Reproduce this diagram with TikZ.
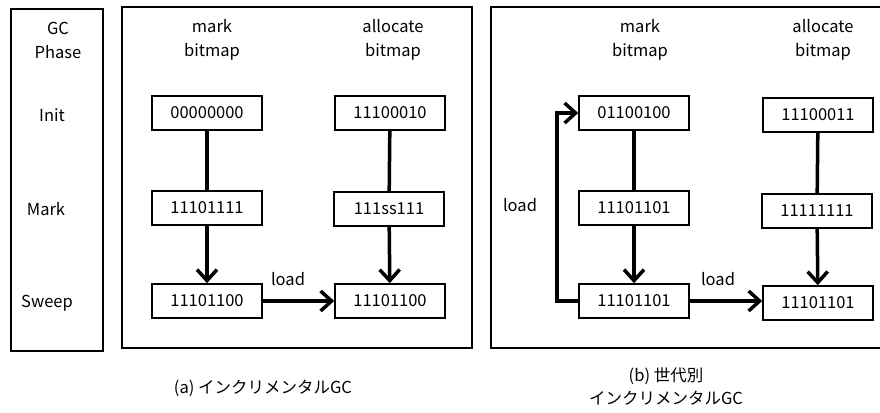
\documentclass[tikz,border=0pt]{standalone}
\usepackage{fontspec}
\setmainfont{Noto Sans CJK JP}
\usetikzlibrary{arrows.meta}
\begin{document}
\begin{tikzpicture}[x=1pt,y=-1pt,
  bitbox/.style={draw, line width=1.6pt, minimum width=110pt, minimum height=34pt,
                 inner sep=0pt, font=\fontsize{16.5}{19}\selectfont},
  lbl/.style={font=\fontsize{16.5}{24}\selectfont, align=center, inner sep=0pt},
  captext/.style={font=\fontsize{16.5}{23}\selectfont, align=center, inner sep=0pt},
  frame/.style={line width=1.6pt},
  link/.style={line width=3.5pt},
  flow/.style={line width=3.5pt, -{Straight Barb[length=11pt,width=20pt,line width=3.5pt]}}
]
\useasboundingbox (0,0) rectangle (880,412);

% frames
\draw[frame] (11,9) rectangle (103,351);
\draw[frame] (122,7) rectangle (472,348);
\draw[frame] (880,7) -- (491,7) -- (491,348) -- (880,348);

% phase column
\node[lbl] (gcphase) at (58,40) {GC\\Phase};
\node[lbl] (pinit)  at (52,115) {Init};
\node[lbl] (pmark)  at (46,209) {Mark};
\node[lbl] (psweep) at (47,303) {Sweep};

% (a) incremental GC
\node[lbl] (ahm) at (212,40) {mark\\bitmap};
\node[lbl] (aha) at (393,40) {allocate\\bitmap};
\node[bitbox] (am1) at (207,113) {00000000};
\node[bitbox] (aa1) at (390,113) {11100010};
\node[bitbox] (am2) at (207,208) {11101111};
\node[bitbox] (aa2) at (389,209) {111ss111};
\node[bitbox] (am3) at (207,301) {11101100};
\node[bitbox] (aa3) at (390,301) {11101100};
\draw[link] (am1) -- (am2);
\draw[link] (aa1) -- (aa2);
\draw[flow] (am2) -- (am3);
\draw[flow] (aa2) -- (aa3);
\draw[flow] (am3) -- (aa3);
\node[lbl] (aload) at (288,279) {load};
\node[captext] (capa) at (263,388) {(a) インクリメンタルGC};

% (b) generational incremental GC
\node[lbl] (bhm) at (640,40) {mark\\bitmap};
\node[lbl] (bha) at (823,40) {allocate\\bitmap};
\node[bitbox] (bm1) at (634,113) {01100100};
\node[bitbox] (ba1) at (818,115) {11100011};
\node[bitbox] (bm2) at (634,208) {11101101};
\node[bitbox] (ba2) at (817,211) {11111111};
\node[bitbox] (bm3) at (634,301) {11101101};
\node[bitbox] (ba3) at (818,303) {11101101};
\draw[link] (bm1) -- (bm2);
\draw[link] (ba1) -- (ba2);
\draw[flow] (bm2) -- (bm3);
\draw[flow] (ba2) -- (ba3);
\draw[flow] (bm3) -- (bm3 -| ba3.west);
\draw[flow] (bm3.west) -- ++(-21,0) |- (bm1.west);
\node[lbl] (bload1) at (520,205) {load};
\node[lbl] (bload2) at (718,279) {load};
\node[captext] (capb) at (666,386) {(b) 世代別\\インクリメンタルGC};
\end{tikzpicture}
\end{document}
